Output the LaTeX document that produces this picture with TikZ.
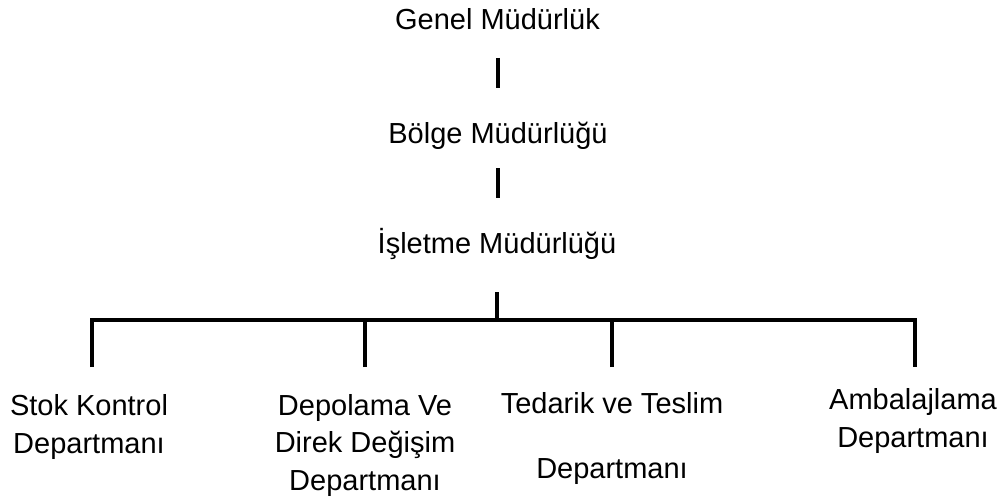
\documentclass[tikz,border=0pt]{standalone}
\usepackage{fontspec}
\setmainfont{Liberation Sans}
\begin{document}
\begin{tikzpicture}[x=1pt,y=-1pt,
  lbl/.style={inner sep=0pt,anchor=base,align=center,font=\fontsize{29}{37.5}\selectfont},
  bar/.style={line width=4pt}]
\useasboundingbox (0,0) rectangle (1008,500);
\node[lbl] (genel) at (497.5,30) {Genel Müdürlük};
\node[lbl] (bolge) at (498,143) {Bölge Müdürlüğü};
\node[lbl] (isletme) at (497,253) {İşletme Müdürlüğü};
\node[lbl] (stok) at (89,453) {Stok Kontrol\\Departmanı};
\node[lbl] (depo) at (365,490) {Depolama Ve\\Direk Değişim\\Departmanı};
\node[lbl] (tedarik) at (612,478) {Tedarik ve Teslim\\[27.5pt]Departmanı};
\node[lbl] (ambalaj) at (913,447) {Ambalajlama\\Departmanı};
\coordinate (hub) at (497,320);
\draw[bar] (genel.base) ++(0,28) -- ++(0,30);
\draw[bar] (bolge.base) ++(0,25) -- ++(0,30);
\draw[bar] (isletme.base) ++(0,39) -- (hub);
\draw[bar] ([xshift=2.5pt,yshift=86pt]stok.base) |- (hub) -| ([xshift=2pt,yshift=80pt]ambalaj.base);
\draw[bar] ([yshift=123pt]depo.base) -- (depo.base |- hub);
\draw[bar] ([yshift=111pt]tedarik.base) -- (tedarik.base |- hub);
\end{tikzpicture}
\end{document}
